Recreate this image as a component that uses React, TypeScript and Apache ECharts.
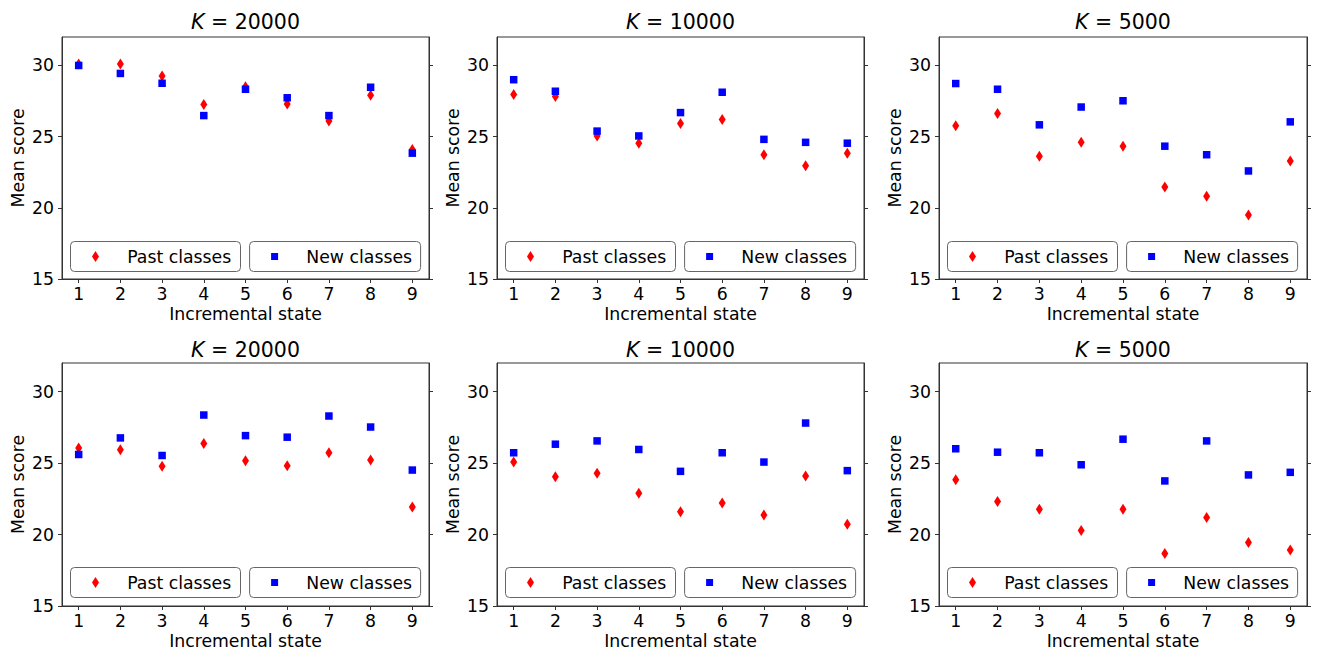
import React, { useEffect, useRef } from "react";
import * as echarts from "echarts";

// ---------- data ----------
const states = [1, 2, 3, 4, 5, 6, 7, 8, 9];
const yTicks = [15, 20, 25, 30];
const kLabels = ["20000", "10000", "5000", "20000", "10000", "5000"];
const legendNames = ["Past classes", "New classes"];

const pastA = [30.1, 30.1, 29.26, 27.25, 28.5, 27.3, 26.1, 27.9, 24.1];
const newA = [30.0, 29.44, 28.75, 26.48, 28.33, 27.73, 26.48, 28.47, 23.84];

const pastB = [27.96, 27.82, 25.05, 24.54, 25.93, 26.2, 23.73, 22.96, 23.84];
const newB = [29.0, 28.19, 25.39, 25.05, 26.69, 28.12, 24.81, 24.6, 24.54];

const pastC = [25.76, 26.62, 23.63, 24.6, 24.33, 21.46, 20.81, 19.49, 23.29];
const newC = [28.73, 28.33, 25.83, 27.08, 27.52, 24.33, 23.73, 22.59, 26.04];

const pastD = [26.06, 25.93, 24.77, 26.37, 25.16, 24.81, 25.72, 25.21, 21.92];
const newD = [25.6, 26.76, 25.53, 28.36, 26.92, 26.81, 28.29, 27.52, 24.51];

const pastE = [25.07, 24.05, 24.28, 22.89, 21.6, 22.2, 21.37, 24.1, 20.72];
const newE = [25.72, 26.32, 26.55, 25.95, 24.42, 25.72, 25.07, 27.8, 24.47];

const pastF = [23.84, 22.31, 21.76, 20.28, 21.76, 18.68, 21.2, 19.44, 18.91];
const newF = [26.0, 25.76, 25.72, 24.88, 26.67, 23.75, 26.55, 24.17, 24.35];

const pastSets = [pastA, pastB, pastC, pastD, pastE, pastF];
const newSets = [newA, newB, newC, newD, newE, newF];

// ---------- layout / style ----------
const FONT = "DejaVu Sans";
const FS = 17.3;
const colLeft = [62, 497, 939];
const colWidth = [367, 367, 368];
const rowTop = [37, 363];
const rowHeight = [242, 244];
const titleY = [22, 349.5];
const AX = "#333";

function buildOption() {
  const grid: any[] = [];
  const xAxis: any[] = [];
  const yAxis: any[] = [];
  const series: any[] = [];
  const graphic: any[] = [];

  for (let k = 0; k < 6; k++) {
    const r = Math.floor(k / 3);
    const c = k % 3;
    const L = colLeft[c];
    const T = rowTop[r];
    const W = colWidth[c];
    const H = rowHeight[r];

    grid.push({
      left: L,
      top: T,
      width: W,
      height: H,
      show: true,
      borderColor: AX,
      borderWidth: 1,
      backgroundColor: "transparent",
    });

    xAxis.push({
      type: "value",
      gridIndex: k,
      min: 0.6,
      max: 9.4,
      name: "Incremental state",
      nameLocation: "middle",
      nameGap: 26,
      nameTextStyle: { fontSize: FS, fontFamily: FONT, color: "#000" },
      axisLine: { show: true, lineStyle: { color: AX, width: 1 } },
      axisTick: {
        show: true,
        length: 4,
        inside: false,
        customValues: states,
        lineStyle: { color: AX },
      },
      axisLabel: {
        show: true,
        customValues: states,
        margin: 6,
        fontSize: FS,
        fontFamily: FONT,
        color: "#000",
      },
      splitLine: { show: false },
    });

    yAxis.push({
      type: "value",
      gridIndex: k,
      position: "left",
      min: 15,
      max: 32,
      interval: 5,
      name: "Mean score",
      nameLocation: "middle",
      nameGap: 36,
      nameTextStyle: { fontSize: FS, fontFamily: FONT, color: "#000" },
      axisLine: { show: true, lineStyle: { color: AX, width: 1 } },
      axisTick: {
        show: true,
        length: 4,
        inside: false,
        customValues: yTicks,
        lineStyle: { color: AX },
      },
      axisLabel: {
        show: true,
        customValues: yTicks,
        margin: 8,
        fontSize: FS,
        fontFamily: FONT,
        color: "#000",
      },
      splitLine: { show: false },
    });
    yAxis.push({
      type: "value",
      gridIndex: k,
      position: "right",
      min: 15,
      max: 32,
      interval: 5,
      axisLine: { show: true, lineStyle: { color: AX, width: 1 } },
      axisTick: {
        show: true,
        length: 4,
        inside: false,
        customValues: yTicks,
        lineStyle: { color: AX },
      },
      axisLabel: { show: false },
      splitLine: { show: false },
    });

    series.push({
      type: "scatter",
      name: legendNames[0],
      xAxisIndex: k,
      yAxisIndex: 2 * k,
      symbol: "diamond",
      symbolSize: [7, 11],
      itemStyle: { color: "#ff0000", opacity: 1 },
      data: states.map((s, i) => [s, pastSets[k][i]]),
      z: 2,
    });
    series.push({
      type: "scatter",
      name: legendNames[1],
      xAxisIndex: k,
      yAxisIndex: 2 * k,
      symbol: "rect",
      symbolSize: 7.5,
      itemStyle: { color: "#0000ff", opacity: 1 },
      data: states.map((s, i) => [s, newSets[k][i]]),
      z: 3,
    });

    // title
    graphic.push({
      type: "text",
      x: L + W / 2,
      y: titleY[r],
      style: {
        text: "{i|K} = " + kLabels[k],
        fontSize: 20.5,
        fontFamily: FONT,
        fill: "#000",
        align: "center",
        verticalAlign: "middle",
        rich: {
          i: { fontStyle: "italic", fontSize: 20.5, fontFamily: FONT, fill: "#000" },
        },
      },
    });

    // legend boxes
    const boxY = T + 204.5;
    const boxH = 30;
    const cy = boxY + boxH / 2;
    const boxes = [
      { x: L + 8.5, w: 170 },
      { x: L + 187.6, w: 171 },
    ];
    boxes.forEach((b, j) => {
      graphic.push({
        type: "rect",
        shape: { x: b.x, y: boxY, width: b.w, height: boxH, r: 4 },
        style: { fill: "#ffffff", stroke: "#666", lineWidth: 1 },
        z: 10,
      });
      const mx = b.x + 25;
      if (j === 0) {
        graphic.push({
          type: "polygon",
          shape: {
            points: [
              [mx, cy - 5.5],
              [mx + 3.5, cy],
              [mx, cy + 5.5],
              [mx - 3.5, cy],
            ],
          },
          style: { fill: "#ff0000" },
          z: 11,
        });
      } else {
        graphic.push({
          type: "rect",
          shape: { x: mx - 3.5, y: cy - 3.5, width: 7, height: 7 },
          style: { fill: "#0000ff" },
          z: 11,
        });
      }
      graphic.push({
        type: "text",
        x: b.x + 56.7,
        y: cy,
        style: {
          text: legendNames[j],
          fontSize: FS,
          fontFamily: FONT,
          fill: "#000",
          align: "left",
          verticalAlign: "middle",
        },
        z: 11,
      });
    });
  }

  return {
    animation: false,
    backgroundColor: "#ffffff",
    grid,
    xAxis,
    yAxis,
    series,
    graphic,
  };
}

export default function App() {
  const ref = useRef<HTMLDivElement>(null);
  useEffect(() => {
    if (!ref.current) return;
    const chart = echarts.init(ref.current, undefined, { renderer: "svg" });
    chart.setOption(buildOption() as any);
    return () => chart.dispose();
  }, []);
  return (
    <div
      ref={ref}
      style={{ position: "fixed", left: 0, top: 0, width: 1317, height: 650 }}
    />
  );
}
